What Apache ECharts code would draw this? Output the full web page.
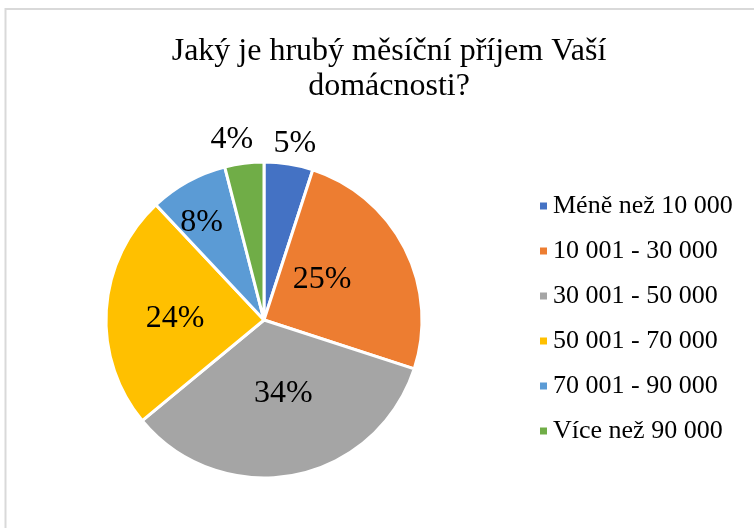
<!DOCTYPE html>
<html>
<head>
<meta charset="utf-8">
<script src="https://cdn.jsdelivr.net/npm/echarts@6/dist/echarts.min.js"></script>
<style>
  html, body { margin: 0; padding: 0; background: #ffffff; }
  #chart { width: 754px; height: 528px; }
</style>
</head>
<body>
<div id="chart"></div>
<script>
const categories = ['Méně než 10 000', '10 001 - 30 000', '30 001 - 50 000', '50 001 - 70 000', '70 001 - 90 000', 'Více než 90 000']
const shares = [5, 25, 34, 24, 8, 4]
const colors = ['#4472C4', '#ED7D31', '#A5A5A5', '#FFC000', '#5B9BD5', '#70AD47']
// label nudges from the default inside spot (Excel "best fit" look)
const labelOffsets = [[18, -95], [-15, -3], [4, -7], [-7, 4], [-23, -26], [-22, -99]]

const chart = echarts.init(document.getElementById('chart'))
const serif = '"Liberation Serif", "Times New Roman", serif'

const option = {
  backgroundColor: '#ffffff',
  animation: false,
  title: {
    text: 'Jaký je hrubý měsíční příjem Vaší\ndomácnosti?',
    left: 384,
    textAlign: 'center',
    top: 29,
    textStyle: {
      fontFamily: serif,
      fontSize: 32,
      fontWeight: 'normal',
      color: '#000000',
      lineHeight: 35,
    },
  },
  legend: {
    orient: 'vertical',
    left: 533,
    top: 188,
    icon: 'rect',
    itemWidth: 9,
    itemHeight: 9,
    itemGap: 19,
    textStyle: {
      fontFamily: serif,
      fontSize: 26,
      color: '#000000',
      lineHeight: 26,
    },
    data: categories,
  },
  graphic: [
    {
      type: 'rect',
      shape: { x: 5.5, y: 9, width: 800, height: 600 },
      style: { fill: 'none', stroke: '#d9d9d9', lineWidth: 2 },
      silent: true,
    },
  ],
  series: [
    {
      type: 'pie',
      center: [264, 320],
      radius: 158,
      startAngle: 90,
      clockwise: true,
      avoidLabelOverlap: false,
      itemStyle: { borderColor: '#ffffff', borderWidth: 3 },
      labelLine: { show: false },
      label: {
        show: true,
        position: 'inside',
        formatter: '{c}%',
        fontFamily: serif,
        fontSize: 32,
        color: '#000000',
      },
      emphasis: { disabled: true },
      data: categories.map((name, i) => ({
        name: name,
        value: shares[i],
        itemStyle: { color: colors[i] },
        label: { offset: labelOffsets[i] },
      })),
    },
  ],
}

chart.setOption(option)
</script>
</body>
</html>
